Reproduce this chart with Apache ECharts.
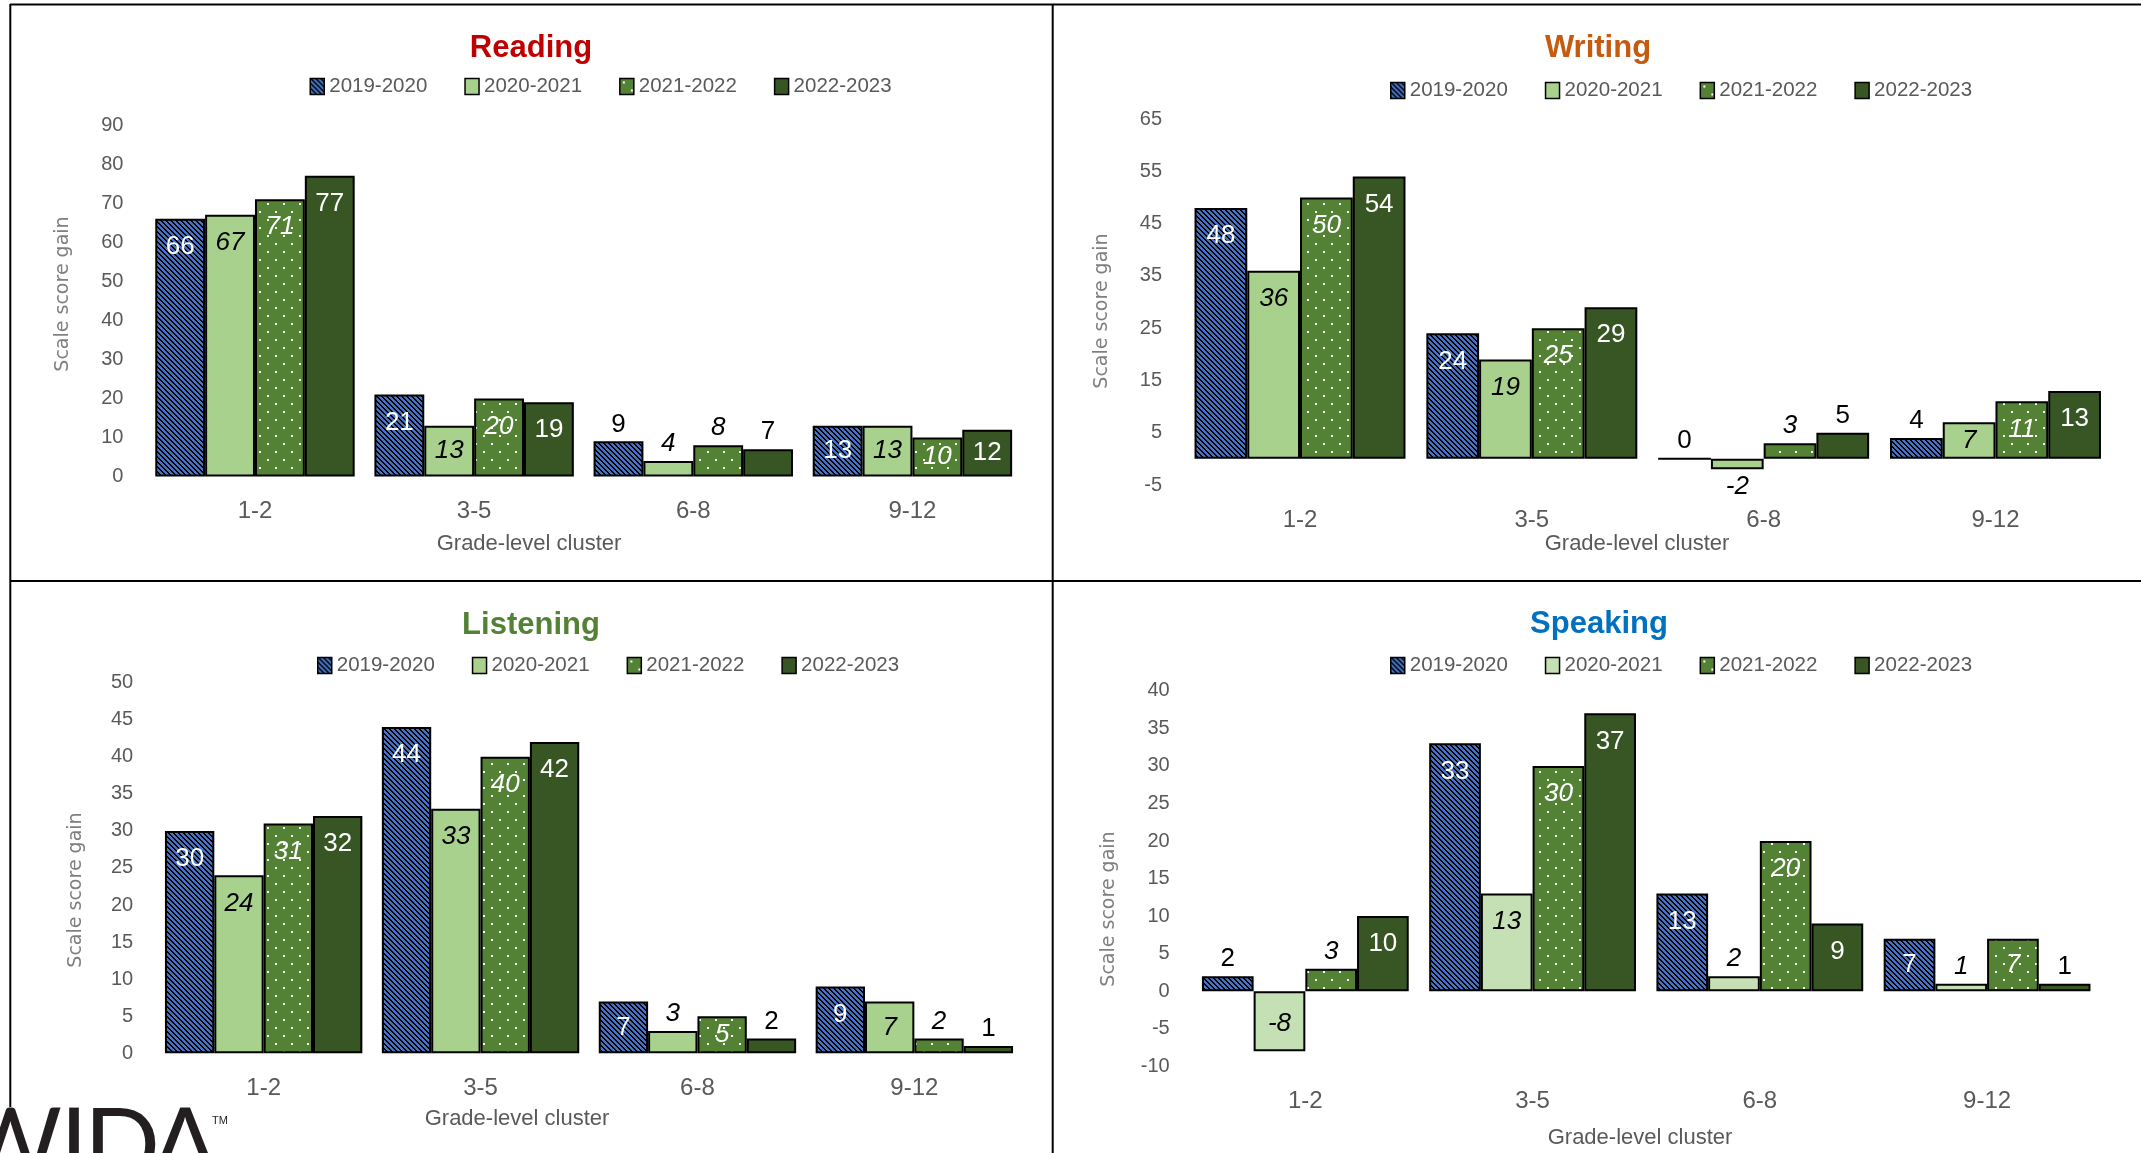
<!DOCTYPE html>
<html>
<head>
<meta charset="utf-8">
<title>Scale score gain by grade-level cluster</title>
<script src="https://cdn.jsdelivr.net/npm/echarts@6/dist/echarts.min.js"></script>
<style>
  html, body { margin: 0; padding: 0; background: #ffffff; }
  #chart { width: 2141px; height: 1153px; }
</style>
</head>
<body>
<div id="chart"></div>
<script>
// ---- data ----
const clusters = ['1-2', '3-5', '6-8', '9-12'];
const years = ['2019-2020', '2020-2021', '2021-2022', '2022-2023'];

const reading2019 = [66, 21, 9, 13];
const reading2020 = [67, 13, 4, 13];
const reading2021 = [71, 20, 8, 10];
const reading2022 = [77, 19, 7, 12];

const writing2019 = [48, 24, 0, 4];
const writing2020 = [36, 19, -2, 7];
const writing2021 = [50, 25, 3, 11];
const writing2022 = [54, 29, 5, 13];

const listening2019 = [30, 44, 7, 9];
const listening2020 = [24, 33, 3, 7];
const listening2021 = [31, 40, 5, 2];
const listening2022 = [32, 42, 2, 1];

const speaking2019 = [2, 33, 13, 7];
const speaking2020 = [-8, 13, 2, 1];
const speaking2021 = [3, 30, 20, 7];
const speaking2022 = [10, 37, 9, 1];

const readingTicks = [0, 10, 20, 30, 40, 50, 60, 70, 80, 90];
const writingTicks = [-5, 5, 15, 25, 35, 45, 55, 65];
const listeningTicks = [0, 5, 10, 15, 20, 25, 30, 35, 40, 45, 50];
const speakingTicks = [-10, -5, 0, 5, 10, 15, 20, 25, 30, 35, 40];

// ---- layout and styling ----
const FONT = '"Liberation Sans", Arial, sans-serif';
const GREY = '#595959';

const panels = [
  { title: 'Reading', titleColor: '#C00000', series: [reading2019, reading2020, reading2021, reading2022],
    ticks: readingTicks, light: '#A9D18E',
    grid: { left: 145.4, top: 125, width: 876.6, height: 351.5 },
    titleAt: [531, 48], legendAt: [304.5, 71], xNameAt: [529, 544], yNameAt: [63, 294] },
  { title: 'Writing', titleColor: '#C55A11', series: [writing2019, writing2020, writing2021, writing2022],
    ticks: writingTicks, light: '#A9D18E',
    grid: { left: 1184.1, top: 119, width: 927.3, height: 366 },
    titleAt: [1598, 48], legendAt: [1385, 75], xNameAt: [1637, 544], yNameAt: [1102, 311] },
  { title: 'Listening', titleColor: '#548235', series: [listening2019, listening2020, listening2021, listening2022],
    ticks: listeningTicks, light: '#A9D18E',
    grid: { left: 155.2, top: 682.6, width: 867.6, height: 370.7 },
    titleAt: [531, 625], legendAt: [312, 650], xNameAt: [517, 1119], yNameAt: [76.5, 890] },
  { title: 'Speaking', titleColor: '#0070C0', series: [speaking2019, speaking2020, speaking2021, speaking2022],
    ticks: speakingTicks, light: '#C5E0B4',
    grid: { left: 1191.7, top: 690.8, width: 909, height: 375.5 },
    titleAt: [1599, 624], legendAt: [1385, 650], xNameAt: [1640, 1138], yNameAt: [1109, 909] }
];

// Diagonal blue/black hatch tile
function hatchTile() {
  const n = 10, period = 5;
  const c = document.createElement('canvas');
  c.width = n; c.height = n;
  const g = c.getContext('2d');
  g.fillStyle = '#4472C4';
  g.fillRect(0, 0, n, n);
  g.fillStyle = '#000000';
  for (let y = 0; y < n; y++) {
    for (let x = 0; x < n; x++) {
      if ((((x - y) % period) + period) % period < 2) g.fillRect(x, y, 1, 1);
    }
  }
  return c;
}

// Green tile with staggered white dots
function dotTile() {
  const c = document.createElement('canvas');
  c.width = 16; c.height = 16;
  const g = c.getContext('2d');
  g.fillStyle = '#548235';
  g.fillRect(0, 0, 16, 16);
  g.fillStyle = '#ffffff';
  g.fillRect(3, 3, 2, 2);
  g.fillRect(11, 11, 2, 2);
  return c;
}

const hatchFill = { image: hatchTile(), repeat: 'repeat' };
const dotFill = { image: dotTile(), repeat: 'repeat' };
const darkFill = '#375623';

const insideColor = ['#ffffff', '#000000', '#ffffff', '#ffffff'];
const italic = [false, true, true, false];
const LABEL_SIZE = 26;

function fillsFor(panel) {
  return [hatchFill, panel.light, dotFill, darkFill];
}

// Labels sit inside the bar end when it is tall enough, otherwise just outside in black
function labelFor(v, s, pxPerUnit) {
  const px = Math.abs(v) * pxPerUnit;
  const base = {
    show: true, fontFamily: FONT, fontSize: LABEL_SIZE, lineHeight: LABEL_SIZE,
    fontStyle: italic[s] ? 'italic' : 'normal'
  };
  if (px < 36) {
    return Object.assign(base, { position: v < 0 ? 'bottom' : 'top', distance: 4, color: '#000000' });
  }
  return Object.assign(base, {
    position: v < 0 ? 'insideBottom' : 'insideTop',
    distance: Math.min(15, (px - LABEL_SIZE) / 2),
    color: insideColor[s]
  });
}

const grids = [], xAxes = [], yAxes = [], series = [], legends = [], graphics = [];

panels.forEach((p, i) => {
  const min = p.ticks[0];
  const max = p.ticks[p.ticks.length - 1];
  const pxPerUnit = p.grid.height / (max - min);
  const fills = fillsFor(p);

  grids.push(Object.assign({ containLabel: false, outerBoundsMode: 'none' }, p.grid));

  xAxes.push({
    type: 'category', gridIndex: i, data: clusters,
    axisLine: { show: false, onZero: false }, axisTick: { show: false }, splitLine: { show: false },
    axisLabel: { margin: 23, color: GREY, fontFamily: FONT, fontSize: 24 }
  });

  yAxes.push({
    type: 'value', gridIndex: i, min: min, max: max,
    axisLine: { show: false }, axisTick: { show: false }, splitLine: { show: false },
    axisLabel: { customValues: p.ticks, margin: 22, color: GREY, fontFamily: FONT, fontSize: 20 }
  });

  p.series.forEach((vals, s) => {
    series.push({
      type: 'bar', name: years[s], xAxisIndex: i, yAxisIndex: i,
      barGap: '0%', barCategoryGap: '9%',
      itemStyle: { color: fills[s], borderColor: '#000000', borderWidth: 2 },
      emphasis: { disabled: true },
      data: vals.map(v => ({ value: v, label: labelFor(v, s, pxPerUnit) }))
    });
  });

  legends.push({
    left: p.legendAt[0], top: p.legendAt[1], orient: 'horizontal',
    icon: 'rect', itemWidth: 14, itemHeight: 16, itemGap: 37, selectedMode: false,
    textStyle: { color: GREY, fontFamily: FONT, fontSize: 20.5 },
    data: years.map((y, s) => ({
      name: y,
      itemStyle: { color: fills[s], borderColor: '#000000', borderWidth: 1.5 }
    }))
  });

  graphics.push({
    type: 'text', x: p.titleAt[0], y: p.titleAt[1],
    style: { text: p.title, fill: p.titleColor, fontFamily: FONT, fontWeight: 'bold', fontSize: 31,
             align: 'center', verticalAlign: 'middle', textAlign: 'center', textVerticalAlign: 'middle' }
  });
  graphics.push({
    type: 'text', x: p.xNameAt[0], y: p.xNameAt[1],
    style: { text: 'Grade-level cluster', fill: GREY, fontFamily: FONT, fontSize: 22,
             align: 'center', verticalAlign: 'middle', textAlign: 'center', textVerticalAlign: 'middle' }
  });
  graphics.push({
    type: 'text', x: p.yNameAt[0], y: p.yNameAt[1], rotation: Math.PI / 2,
    style: { text: 'Scale score gain', fill: '#7F7F7F', fontFamily: '"DejaVu Sans", sans-serif', fontSize: 19,
             align: 'center', verticalAlign: 'middle', textAlign: 'center', textVerticalAlign: 'middle' }
  });
});

// Panel frame lines
const frame = [
  [10, 4.5, 2141, 4.5],
  [10.3, 4, 10.3, 1107],
  [1052.7, 4, 1052.7, 1153],
  [10, 581, 2141, 581]
];
frame.forEach(l => graphics.push({
  type: 'line', shape: { x1: l[0], y1: l[1], x2: l[2], y2: l[3] },
  style: { stroke: '#000000', lineWidth: 2 }, z: 10
}));

// Logo in the lower-left corner
const logoStyle = { fill: '#231F20', fontFamily: 'Lato, "Liberation Sans", sans-serif', fontSize: 100,
                    verticalAlign: 'middle', textVerticalAlign: 'middle' };
[['W', 62, 'right'], ['I', 74, 'center'], ['D', 84, 'left'], ['A', 185, 'center']].forEach(d => {
  graphics.push({
    type: 'text', x: d[1], y: 1148, z: 20,
    style: Object.assign({ text: d[0], align: d[2], textAlign: d[2] }, logoStyle)
  });
});
graphics.push({
  type: 'text', x: 212, y: 1121, z: 20,
  style: { text: 'TM', fill: '#231F20', fontFamily: FONT, fontSize: 11, align: 'left', verticalAlign: 'middle',
           textAlign: 'left', textVerticalAlign: 'middle' }
});

const chart = echarts.init(document.getElementById('chart'), null, { renderer: 'canvas' });
chart.setOption({
  backgroundColor: '#ffffff',
  animation: false,
  grid: grids,
  xAxis: xAxes,
  yAxis: yAxes,
  legend: legends,
  series: series,
  graphic: { elements: graphics }
});
</script>
</body>
</html>
